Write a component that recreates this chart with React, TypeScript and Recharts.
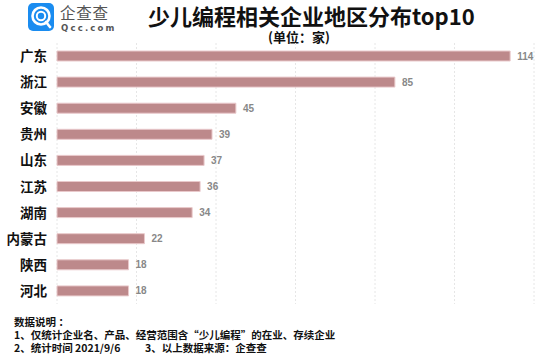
import React from "react";
import { BarChart, Bar, XAxis, YAxis, CartesianGrid, LabelList } from "recharts";

const regions = ["广东", "浙江", "安徽", "贵州", "山东", "江苏", "湖南", "内蒙古", "陕西", "河北"];
const counts = [114, 85, 45, 39, 37, 36, 34, 22, 18, 18];
const xTicks = [0, 20, 40, 60, 80, 100, 120];

const title = "少儿编程相关企业地区分布top10";
const subtitle = "(单位：家)";
const noteHead = "数据说明 ：";
const note1 = "1、仅统计企业名、产品、经营范围含“少儿编程”的在业、存续企业";
const note2 = "2、统计时间 2021/9/6";
const note3 = "3、以上数据来源：企查查";

const data = regions.map((r, i) => ({ region: r, count: counts[i] }));

const FONT = '"Noto Sans CJK SC", "Noto Sans", sans-serif';

const YTick = (props: any) => {
  const { x, y, payload } = props;
  return (
    <text x={x - 2} y={y} dy={5} textAnchor="end" fontFamily={FONT} fontSize={13.5} fontWeight={700} fill="#111">
      {payload.value}
    </text>
  );
};

const Logo = () => (
  <svg width={120} height={40} style={{ position: "absolute", left: 26, top: 0 }}>
    <rect x={2} y={3} width={26} height={28} rx={5} fill="#1a8cf0" />
    <circle cx={15} cy={16} r={8.5} fill="none" stroke="#fff" strokeWidth={2.6} />
    <circle cx={15} cy={16} r={4.2} fill="none" stroke="#fff" strokeWidth={2} />
    <line x1={20} y1={22} x2={24} y2={27} stroke="#fff" strokeWidth={2.6} strokeLinecap="round" />
    <text x={34} y={19} fontFamily={FONT} fontSize={15.5} fill="#555" letterSpacing={0.8}>企查查</text>
    <text x={35} y={31} fontFamily='"DejaVu Sans", sans-serif' fontSize={8.5} fontWeight={700} fill="#555" letterSpacing={2.2}>Qcc.com</text>
  </svg>
);

const noteStyle: React.CSSProperties = {
  position: "absolute",
  fontSize: 10.5,
  fontWeight: 700,
  color: "#111",
  lineHeight: "12px",
  whiteSpace: "nowrap",
};

export default function App() {
  return (
    <div style={{ position: "absolute", left: 0, top: 0, width: 550, height: 358, background: "#fff", fontFamily: FONT }}>
      <Logo />
      <div style={{ position: "absolute", left: 148, top: 2, fontSize: 22, fontWeight: 700, color: "#111", whiteSpace: "nowrap", lineHeight: "26px" }}>
        {title}
      </div>
      <div style={{ position: "absolute", left: 268, top: 29, fontSize: 13, fontWeight: 700, color: "#111", whiteSpace: "nowrap", lineHeight: "16px" }}>
        {subtitle}
      </div>
      <BarChart
        width={550}
        height={358}
        data={data}
        layout="vertical"
        margin={{ top: 43, right: 16, bottom: 54, left: 0 }}
        barCategoryGap={8}
      >
        <CartesianGrid horizontal={false} vertical={true} stroke="#e6e6e6" strokeDasharray="2 2" />
        <XAxis type="number" domain={[0, 120]} ticks={xTicks} hide />
        <YAxis
          type="category"
          dataKey="region"
          width={57}
          axisLine={false}
          tickLine={false}
          tick={<YTick />}
          interval={0}
        />
        <Bar dataKey="count" fill="#bd898b" stroke="#e9c9cb" strokeWidth={1} barSize={10} isAnimationActive={false}>
          <LabelList dataKey="count" position="right" offset={7} fill="#888" fontSize={10} fontWeight={700} fontFamily='"Liberation Sans", Arial, sans-serif' />
        </Bar>
      </BarChart>
      <div style={{ ...noteStyle, left: 14, top: 315.5 }}>{noteHead}</div>
      <div style={{ ...noteStyle, left: 14, top: 328.5 }}>{note1}</div>
      <div style={{ ...noteStyle, left: 14, top: 341.5 }}>{note2}</div>
      <div style={{ ...noteStyle, left: 145, top: 341.5 }}>{note3}</div>
    </div>
  );
}
